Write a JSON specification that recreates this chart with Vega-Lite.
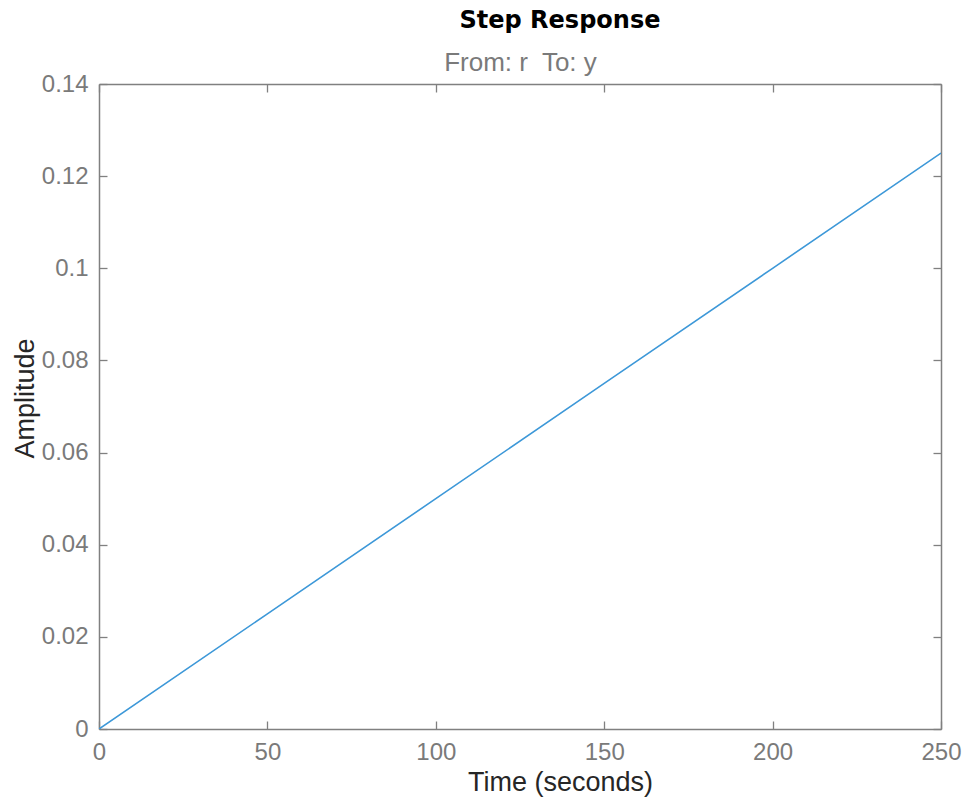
{
  "$schema": "https://vega.github.io/schema/vega-lite/v6.json",
  "autosize": "none",
  "width": 842,
  "height": 645,
  "padding": {"left": 99, "top": 84, "right": 26, "bottom": 69},
  "background": "white",
  "config": {"view": {"stroke": null}, "font": "Liberation Sans"},
  "title": {"text": "Step Response", "fontSize": 24, "fontWeight": "bold", "color": "#000000", "font": "DejaVu Sans", "anchor": "middle", "dx": 40, "offset": -3, "baseline": "alphabetic"},
  "data": {"values": [
    {"t": 0, "y": 0},
    {"t": 50, "y": 0.025},
    {"t": 100, "y": 0.05},
    {"t": 150, "y": 0.075},
    {"t": 200, "y": 0.1},
    {"t": 250, "y": 0.125}
  ]},
  "layer": [
    {
      "mark": {"type": "line", "color": "#3d98d8", "strokeWidth": 1.6, "clip": true},
      "encoding": {
        "x": {"field": "t", "type": "quantitative", "scale": {"domain": [0, 250], "nice": false},
          "axis": {"orient": "bottom", "title": "Time (seconds)", "values": [0, 50, 100, 150, 200, 250], "grid": false, "format": "d",
            "tickSize": -8, "tickColor": "#808080", "tickWidth": 1.3, "domainColor": "#808080", "domainWidth": 1.5,
            "labelFontSize": 24, "labelColor": "#7a7a7a", "labelPadding": 19, "labelFlush": false,
            "titleFontSize": 27, "titleColor": "#262626", "titleFontWeight": "normal", "titleX": 461, "titleY": 61, "titleBaseline": "alphabetic", "titleAnchor": "middle"}},
        "y": {"field": "y", "type": "quantitative", "scale": {"domain": [0, 0.14], "nice": false},
          "axis": {"orient": "left", "title": "Amplitude", "values": [0, 0.02, 0.04, 0.06, 0.08, 0.1, 0.12, 0.14], "grid": false, "format": "~g",
            "tickSize": -8, "tickColor": "#808080", "tickWidth": 1.3, "domainColor": "#808080", "domainWidth": 1.5,
            "labelFontSize": 24, "labelColor": "#7a7a7a", "labelPadding": 19, "labelFlush": false,
            "titleFontSize": 27, "titleColor": "#262626", "titleFontWeight": "normal", "titleX": -66, "titleY": 314, "titleBaseline": "alphabetic", "titleAnchor": "middle"}}
      }
    },
    {
      "mark": {"type": "line", "opacity": 0},
      "encoding": {
        "x": {"field": "t", "type": "quantitative", "scale": {"domain": [0, 250], "nice": false},
          "axis": {"orient": "top", "title": "From: r\u00a0 To: y", "values": [0, 50, 100, 150, 200, 250], "grid": false, "labels": false,
            "tickSize": -8, "tickColor": "#808080", "tickWidth": 1.3, "domainColor": "#808080", "domainWidth": 1.5,
            "titleFontSize": 26, "titleColor": "#7a7a7a", "titleFontWeight": "normal", "titleX": 421, "titleY": -14, "titleBaseline": "alphabetic", "titleAnchor": "middle"}},
        "y": {"field": "y", "type": "quantitative", "scale": {"domain": [0, 0.14], "nice": false},
          "axis": {"orient": "right", "title": null, "values": [0, 0.02, 0.04, 0.06, 0.08, 0.1, 0.12, 0.14], "grid": false, "labels": false,
            "tickSize": -8, "tickColor": "#808080", "tickWidth": 1.3, "domainColor": "#808080", "domainWidth": 1.5}}
      }
    }
  ],
  "resolve": {"axis": {"x": "independent", "y": "independent"}}
}
